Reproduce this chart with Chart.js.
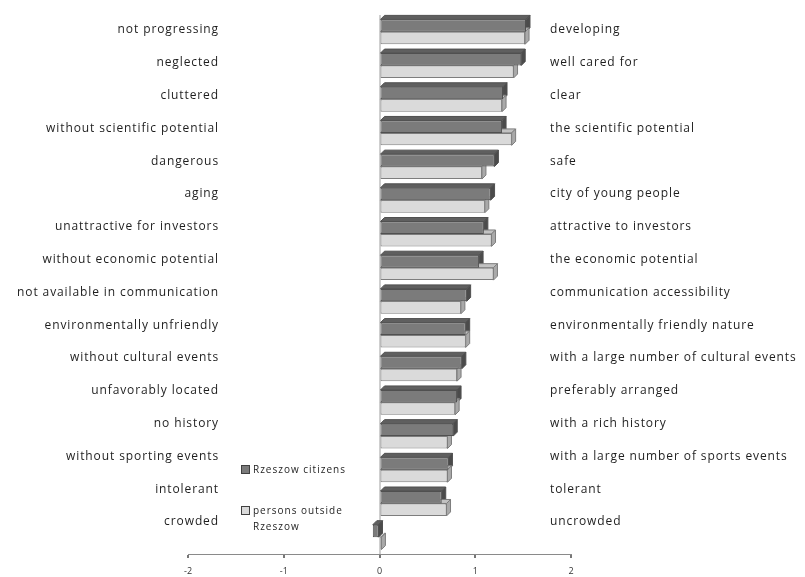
<!DOCTYPE html>
<html>
<head>
<meta charset="utf-8">
<script src="https://cdn.jsdelivr.net/npm/chart.js@4.4.1/dist/chart.umd.min.js"></script>
<style>
    html, body { margin: 0; padding: 0; background: #ffffff; }
    #wrap { width: 805px; height: 577px; }
</style>
</head>
<body>
<div id="wrap"><canvas id="chart"></canvas></div>
<script>
// Negative pole of each pair (left column)
var leftLabels = ["not progressing", "neglected", "cluttered", "without scientific potential", "dangerous", "aging",
    "unattractive for investors", "without economic potential", "not available in communication",
    "environmentally unfriendly", "without cultural events", "unfavorably located", "no history",
    "without sporting events", "intolerant", "crowded"];
// Positive pole of each pair (right column)
var rightLabels = ["developing", "well cared for", "clear", "the scientific potential", "safe", "city of young people",
    "attractive to investors", "the economic potential", "communication accessibility",
    "environmentally friendly nature", "with a large number of cultural events", "preferably arranged",
    "with a rich history", "with a large number of sports events", "tolerant", "uncrowded"];
var citizens = [1.53, 1.48, 1.29, 1.28, 1.20, 1.16, 1.09, 1.04, 0.91, 0.90, 0.86, 0.81, 0.77, 0.72, 0.65, -0.07];
var outsiders = [1.52, 1.40, 1.28, 1.38, 1.07, 1.10, 1.17, 1.19, 0.85, 0.90, 0.81, 0.79, 0.71, 0.71, 0.70, 0.02];
var seriesNames = ["Rzeszow citizens", ["persons outside", "Rzeszow"]];
var xTicks = [-2, -1, 0, 1, 2];

var textFont = "12px 'Open Sans'";
var depth = 4;

// face colours per series: front, top, side, edge
var shades = [
    { front: "#7b7b7b", top: "#5f5f5f", side: "#4b4b4b", edge: "#505050" },
    { front: "#dadada", top: "#c2c2c2", side: "#a9a9a9", edge: "#7d7d7d" }
];

// Draw the top and right faces behind the flat bars to give them some depth.
var depthPlugin = {
    id: "depthFaces",
    beforeDatasetsDraw: function (chart) {
        var ctx = chart.ctx;
        ctx.save();
        ctx.lineWidth = 1;
        for (var ds = 0; ds < chart.data.datasets.length; ++ds) {
            var bars = chart.getDatasetMeta(ds).data;
            for (var i = 0; i < bars.length; ++i) {
                var p = bars[i].getProps(["x", "y", "base", "height"], true);
                var x0 = Math.min(p.x, p.base);
                var x1 = Math.max(p.x, p.base);
                var top = p.y - p.height / 2;
                var bottom = p.y + p.height / 2;
                ctx.strokeStyle = shades[ds].edge;
                // top face
                ctx.fillStyle = shades[ds].top;
                ctx.beginPath();
                ctx.moveTo(x0, top);
                ctx.lineTo(x0 + depth, top - depth);
                ctx.lineTo(x1 + depth, top - depth);
                ctx.lineTo(x1, top);
                ctx.closePath();
                ctx.fill();
                ctx.stroke();
                // right face
                ctx.fillStyle = shades[ds].side;
                ctx.beginPath();
                ctx.moveTo(x1, top);
                ctx.lineTo(x1 + depth, top - depth);
                ctx.lineTo(x1 + depth, bottom - depth);
                ctx.lineTo(x1, bottom);
                ctx.closePath();
                ctx.fill();
                ctx.stroke();
            }
        }
        ctx.restore();
    }
};

// Pair labels on both sides and the small legend box.
var labelsPlugin = {
    id: "pairLabels",
    afterDraw: function (chart) {
        var ctx = chart.ctx;
        var area = chart.chartArea;
        var pitch = (area.height - 47) / (leftLabels.length - 1);
        ctx.save();
        ctx.font = textFont;
        ctx.letterSpacing = "0.9px";
        ctx.fillStyle = "#1e1e1e";
        ctx.textBaseline = "middle";
        for (var i = 0; i < leftLabels.length; ++i) {
            var y = area.top + 15 + i * pitch;
            ctx.textAlign = "right";
            ctx.fillText(leftLabels[i], 219, y);
            ctx.textAlign = "left";
            ctx.fillText(rightLabels[i], 550, y);
        }

        // legend
        ctx.font = "10px 'Open Sans'";
        ctx.letterSpacing = "1px";
        ctx.textAlign = "left";
        var rows = [470, 511];
        for (var s = 0; s < seriesNames.length; ++s) {
            ctx.fillStyle = shades[s].front;
            ctx.strokeStyle = "#404040";
            ctx.lineWidth = 1;
            ctx.fillRect(241.5, rows[s] - 4.5, 8, 8);
            ctx.strokeRect(241.5, rows[s] - 4.5, 8, 8);
            ctx.fillStyle = "#1e1e1e";
            var lines = [].concat(seriesNames[s]);
            for (var l = 0; l < lines.length; ++l) {
                ctx.fillText(lines[l], 253, rows[s] + l * 16);
            }
        }
        ctx.restore();
    }
};

new Chart(document.getElementById("chart"), {
    type: "bar",
    data: {
        labels: rightLabels,
        datasets: [
            {
                label: "Rzeszow citizens",
                data: citizens,
                backgroundColor: shades[0].front,
                borderColor: shades[0].edge,
                borderWidth: 1,
                borderSkipped: false
            },
            {
                label: "persons outside Rzeszow",
                data: outsiders,
                backgroundColor: shades[1].front,
                borderColor: shades[1].edge,
                borderWidth: 1,
                borderSkipped: false
            }
        ]
    },
    options: {
        indexAxis: "y",
        responsive: true,
        maintainAspectRatio: false,
        animation: false,
        devicePixelRatio: 1,
        categoryPercentage: 0.74,
        barPercentage: 1.0,
        layout: { padding: { left: 188, right: 234, top: 15, bottom: 0 } },
        plugins: {
            legend: { display: false },
            tooltip: { enabled: false }
        },
        scales: {
            x: {
                min: -2,
                max: 2,
                afterBuildTicks: function (axis) {
                    axis.ticks = xTicks.map(function (v) { return { value: v }; });
                },
                afterFit: function (axis) {
                    axis.height = 23;
                },
                grid: {
                    drawOnChartArea: true,
                    color: function (c) { return c.tick && c.tick.value === 0 ? "#cfcfcf" : "rgba(0,0,0,0)"; },
                    lineWidth: 2,
                    tickColor: "#777777",
                    tickLength: 4
                },
                border: { display: true, color: "#8a8a8a", width: 1 },
                ticks: {
                    font: { family: "Open Sans", size: 9 },
                    color: "#333333",
                    padding: 8
                }
            },
            y: {
                display: false
            }
        }
    },
    plugins: [depthPlugin, labelsPlugin]
});
</script>
</body>
</html>
